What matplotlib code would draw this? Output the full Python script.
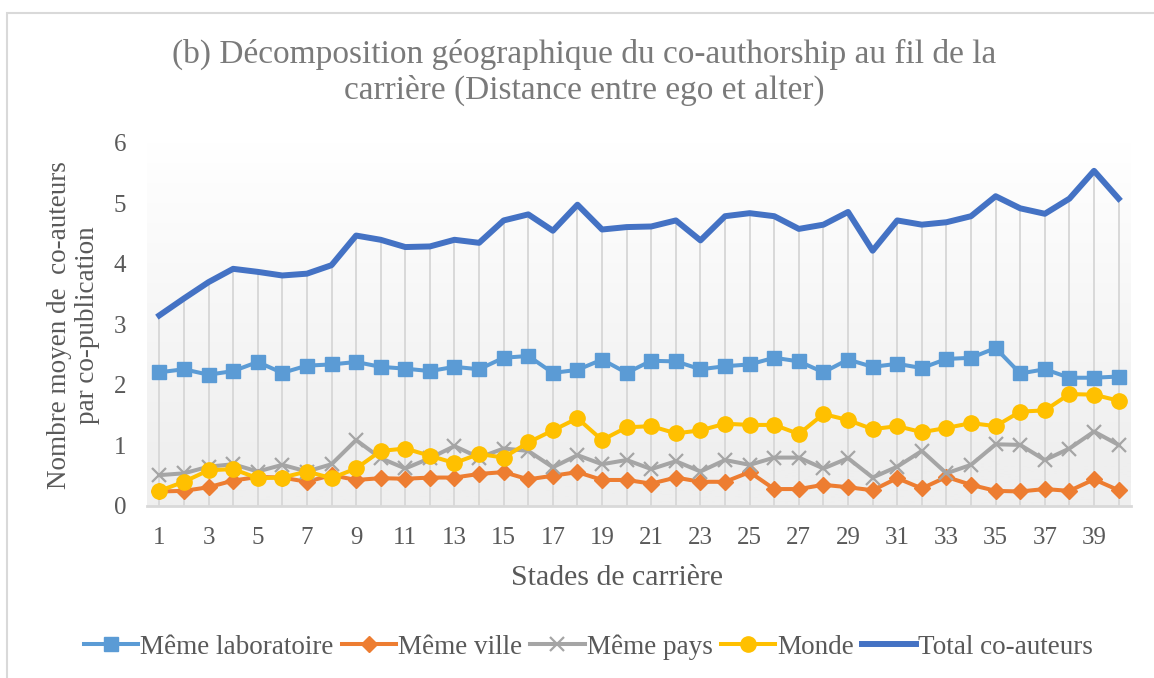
import numpy as np
import matplotlib
matplotlib.use("Agg")
import matplotlib.pyplot as plt
from matplotlib.lines import Line2D
from matplotlib.patches import Rectangle

# stades de carriere 1..40
stades = list(range(1, 41))

meme_labo = [2.21, 2.26, 2.17, 2.23, 2.38, 2.20, 2.32, 2.34, 2.38, 2.30,
             2.27, 2.23, 2.30, 2.26, 2.45, 2.48, 2.20, 2.25, 2.42, 2.20,
             2.40, 2.39, 2.26, 2.31, 2.34, 2.45, 2.39, 2.21, 2.42, 2.30,
             2.35, 2.28, 2.43, 2.45, 2.61, 2.19, 2.26, 2.12, 2.12, 2.14]
meme_ville = [0.24, 0.25, 0.31, 0.42, 0.48, 0.47, 0.40, 0.51, 0.43, 0.46,
              0.45, 0.47, 0.47, 0.53, 0.56, 0.44, 0.50, 0.56, 0.43, 0.43,
              0.37, 0.47, 0.40, 0.40, 0.56, 0.28, 0.28, 0.35, 0.31, 0.26,
              0.46, 0.29, 0.48, 0.35, 0.25, 0.24, 0.28, 0.25, 0.44, 0.26]
meme_pays = [0.51, 0.54, 0.65, 0.69, 0.57, 0.68, 0.57, 0.69, 1.09, 0.79,
             0.62, 0.79, 0.99, 0.80, 0.95, 0.91, 0.64, 0.84, 0.69, 0.76,
             0.61, 0.74, 0.57, 0.76, 0.68, 0.80, 0.80, 0.62, 0.79, 0.47,
             0.65, 0.91, 0.54, 0.68, 1.02, 1.01, 0.76, 0.95, 1.23, 1.01]
monde = [0.25, 0.40, 0.59, 0.61, 0.46, 0.47, 0.57, 0.46, 0.62, 0.91,
         0.95, 0.83, 0.71, 0.86, 0.80, 1.05, 1.25, 1.45, 1.09, 1.30,
         1.32, 1.20, 1.25, 1.36, 1.34, 1.34, 1.19, 1.52, 1.42, 1.27,
         1.32, 1.22, 1.29, 1.37, 1.32, 1.56, 1.58, 1.85, 1.84, 1.74]
total = [3.15, 3.43, 3.70, 3.92, 3.87, 3.81, 3.84, 3.98, 4.47, 4.40,
         4.28, 4.29, 4.40, 4.35, 4.72, 4.82, 4.55, 4.98, 4.57, 4.61,
         4.62, 4.72, 4.39, 4.79, 4.84, 4.79, 4.58, 4.65, 4.86, 4.22,
         4.72, 4.65, 4.69, 4.79, 5.12, 4.92, 4.83, 5.08, 5.54, 5.08]

plt.rcParams['font.family'] = ['Liberation Serif', 'DejaVu Serif']

fig = plt.figure(figsize=(11.54, 6.78), dpi=100)
ax = fig.add_axes([0.1274, 0.2537, 0.8526, 0.5354])

# light grey frame around the chart
fig.patches.append(Rectangle((7 / 1154, -0.1), 1.2, 1 - 13 / 678 + 0.1,
                             transform=fig.transFigure, fill=False,
                             edgecolor='#d9d9d9', linewidth=1.5))

# gradient background of the plot area
grad = np.linspace(0, 1, 256).reshape(-1, 1)
grad = np.clip((grad - 0.12) / 0.88, 0, 1)
ax.imshow(grad, extent=[0, 1, 0, 1], transform=ax.transAxes, aspect='auto',
          cmap=matplotlib.colors.LinearSegmentedColormap.from_list('g', ['#efefef', '#ffffff']),
          origin='lower', zorder=0)

# drop lines
ax.vlines(stades, 0, total, color='#d9d9d9', linewidth=1.4, zorder=1)

lw = 2.9
ax.plot(stades, meme_labo, color='#5b9bd5', linewidth=lw, marker='s', markersize=10.5, zorder=3)
ax.plot(stades, meme_ville, color='#ed7d31', linewidth=lw, marker='D', markersize=8, zorder=4)
ax.plot(stades, meme_pays, color='#a5a5a5', linewidth=lw, marker='x', markersize=9.5,
        markeredgewidth=1.6, zorder=5)
ax.plot(stades, monde, color='#ffc000', linewidth=lw, marker='o', markersize=11, zorder=6)
ax.plot(stades, total, color='#4472c4', linewidth=4.3, zorder=7)

ax.set_xlim(0.5, 40.5)
ax.set_ylim(0, 6)
ax.set_xticks(stades[::2])
ax.set_yticks(range(0, 7))
ax.tick_params(length=0, labelsize=18, labelcolor='#595959')
ax.tick_params(axis='x', pad=15)
ax.tick_params(axis='y', pad=15)
for s in ['top', 'right', 'left']:
    ax.spines[s].set_visible(False)
ax.spines['bottom'].set_color('#d9d9d9')
ax.spines['bottom'].set_linewidth(2)
ax.spines['bottom'].set_zorder(2)

fig.text(0.506, 0.893, "(b) Décomposition géographique du co-authorship au fil de la\ncarrière (Distance entre ego et alter)",
         ha='center', va='center', fontsize=24, color='#7a7a7a', linespacing=1.2)
fig.text(0.0637, 0.52, "Nombre moyen de  co-auteurs\npar co-publication", rotation=90,
         ha='center', va='center', fontsize=19.5, color='#595959', linespacing=1.2)
fig.text(0.535, 0.1475, "Stades de carrière", ha='center', va='center',
         fontsize=21.5, color='#595959')

handles = [
    Line2D([], [], color='#5b9bd5', linewidth=lw, marker='s', markersize=10.5),
    Line2D([], [], color='#ed7d31', linewidth=lw, marker='D', markersize=8),
    Line2D([], [], color='#a5a5a5', linewidth=lw, marker='x', markersize=9.5, markeredgewidth=1.6),
    Line2D([], [], color='#ffc000', linewidth=lw, marker='o', markersize=11),
    Line2D([], [], color='#4472c4', linewidth=4.3),
]
labels = ["Même laboratoire", "Même ville", "Même pays", "Monde", "Total co-auteurs"]
leg = fig.legend(handles, labels, loc='center', bbox_to_anchor=(0.51, 0.046), ncol=5,
                 frameon=False, fontsize=19.5, handlelength=2.0, handletextpad=0.08,
                 columnspacing=0.3)
for t in leg.get_texts():
    t.set_color('#595959')

fig.savefig("out.png", dpi=100)
